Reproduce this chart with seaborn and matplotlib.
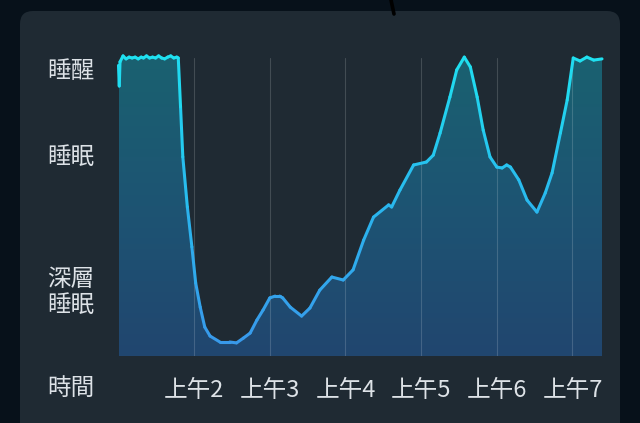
import matplotlib.pyplot as plt
import matplotlib.colors as mcolors
from matplotlib.patches import FancyBboxPatch
from matplotlib.lines import Line2D
from matplotlib.transforms import blended_transform_factory
import numpy as np
import pandas as pd
import seaborn as sns

sns.set_theme(style="dark", rc={"axes.grid": False})
plt.rcParams["font.family"] = ["Noto Sans CJK TC", "DejaVu Sans"]

# sleep depth trace (hours after midnight, 0 = bottom, 100 = awake)
hours = [1.00, 1.01, 1.02, 1.06,
         1.10, 1.14, 1.18, 1.22, 1.26, 1.30, 1.33, 1.37, 1.41, 1.45,
         1.49, 1.53, 1.57, 1.61, 1.65, 1.69, 1.73, 1.77, 1.79,
         1.82, 1.85, 1.91, 1.97, 2.02, 2.08, 2.14, 2.21, 2.34, 2.47,
         2.56, 2.65, 2.74, 2.83, 2.91, 3.00, 3.07, 3.13, 3.17, 3.27,
         3.42, 3.53, 3.66, 3.82, 3.97, 4.10, 4.24, 4.37, 4.57, 4.61,
         4.72, 4.90, 5.07, 5.16, 5.25, 5.38, 5.47, 5.57, 5.65, 5.74,
         5.82, 5.91, 6.00, 6.07, 6.13, 6.18, 6.29, 6.40, 6.53, 6.64,
         6.73, 6.84, 6.93, 7.01, 7.10, 7.19, 7.28, 7.39]
depth = [97.5, 90.6, 98.7, 100.7,
         99.7, 100.3, 100.0, 100.3, 99.7, 100.3, 100.0, 100.7, 100.0, 100.3,
         100.0, 100.7, 100.0, 99.7, 100.3, 100.7, 100.0, 100.3, 100.0,
         83.6, 66.8, 50.0, 36.6, 24.5, 16.4, 9.7, 6.7, 4.7, 4.7,
         4.4, 6.0, 7.7, 12.1, 15.4, 19.5, 20.1, 20.1, 19.5, 16.4,
         13.4, 16.1, 22.1, 26.5, 25.5, 28.9, 38.9, 46.6, 50.7, 50.0,
         55.7, 64.1, 65.1, 67.4, 74.8, 86.9, 96.0, 100.3, 97.0, 86.9,
         75.8, 66.8, 63.4, 63.1, 64.1, 63.4, 59.1, 52.3, 48.3, 54.7,
         61.4, 74.8, 85.9, 100.0, 99.0, 100.3, 99.3, 99.7]
assert len(hours) == len(depth)

level_labels = ["睡醒", "睡眠", "深層\n睡眠"]
level_pos = [95.5, 66.5, 21.3]
tick_hours = [2, 3, 4, 5, 6, 7]
tick_labels = ["上午2", "上午3", "上午4", "上午5", "上午6", "上午7"]

W, H = 640, 423
TXT = "#dde2e7"
fig = plt.figure(figsize=(W / 100, H / 100), dpi=100, facecolor="#07111a")

# background panel
bg = fig.add_axes([0, 0, 1, 1])
bg.set_xlim(0, W)
bg.set_ylim(H, 0)
bg.axis("off")
bg.add_patch(FancyBboxPatch((20, 11), 600, 440, boxstyle="round,pad=0,rounding_size=13",
                            fc="#1f2a33", ec="none"))
bg.add_line(Line2D([391, 394], [0, 14], color="#000000", lw=2.6, solid_capstyle="round"))

ax = fig.add_axes([118.5 / W, (H - 356) / H, (602 - 118.5) / W, 298 / H])
ax.set_facecolor("none")
for s in ax.spines.values():
    s.set_visible(False)

# gradient fill under the curve
fill = ax.fill_between(hours, depth, 0, color="none", lw=0)
fill_cmap = mcolors.LinearSegmentedColormap.from_list("fill", ["#21466f", "#1d5473", "#1a6170"])
grad = np.linspace(0, 1, 256).reshape(-1, 1)
img = ax.imshow(grad, cmap=fill_cmap, origin="lower", aspect="auto",
                extent=[hours[0], hours[-1], 0, 100], zorder=1)
img.set_clip_path(fill.get_paths()[0], transform=ax.transData)

for h in tick_hours:
    ax.axvline(h, color="#ffffff", alpha=0.16, lw=0.8, zorder=2)

# gradient line as short segments coloured by depth
rows = []
for i in range(len(hours) - 1):
    c = (depth[i] + depth[i + 1]) / 2
    rows.append((hours[i], depth[i], i, c))
    rows.append((hours[i + 1], depth[i + 1], i, c))
seg = pd.DataFrame(rows, columns=["t", "v", "seg", "c"])
line_cmap = mcolors.LinearSegmentedColormap.from_list("line", ["#3a96ea", "#2ab6ee", "#1fe0f0"])
sns.lineplot(data=seg, x="t", y="v", units="seg", estimator=None, hue="c",
             palette=line_cmap, hue_norm=(0, 100), legend=False, sort=False,
             lw=2.2, solid_capstyle="round", ax=ax, zorder=3, clip_on=False)

ax.set_xlim(hours[0], hours[-1])
ax.set_ylim(0, 100)
ax.set_xlabel("")
ax.set_ylabel("")
ax.set_yticks([])
ax.set_xticks(tick_hours, tick_labels)
ax.tick_params(axis="x", length=0, pad=16.5, labelsize=17, labelcolor=TXT)

lab_tr = blended_transform_factory(fig.transFigure, ax.transData)
for lab, pos in zip(level_labels, level_pos):
    ax.text(47 / W, pos, lab, transform=lab_tr, ha="left", va="center",
            fontsize=17, color=TXT, linespacing=1.15)
fig.text(47 / W, (H - 388) / H, "時間", ha="left", va="center", fontsize=17, color=TXT)

fig.savefig("out.png", dpi=100, facecolor=fig.get_facecolor())
